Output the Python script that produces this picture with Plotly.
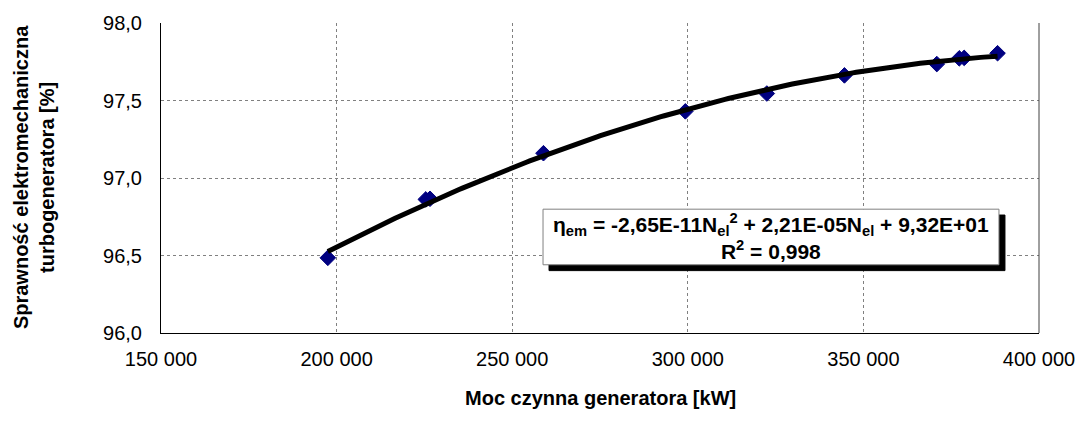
import numpy as np
import plotly.graph_objects as go

# Data
power_kw = [197500, 225400, 226600, 258900, 299300, 322500, 344600, 370900, 377300, 378700, 388200]
efficiency_pct = [96.485, 96.862, 96.866, 97.160, 97.430, 97.545, 97.662, 97.735, 97.772, 97.775, 97.805]

x_title = "Moc czynna generatora [kW]"
y_title = "Sprawność elektromechaniczna<br>turbogeneratora [%]"
eq_text = ("η<sub>em</sub> = -2,65E-11N<sub>el</sub><sup>2</sup> + 2,21E-05N<sub>el</sub> + 9,32E+01"
           "<br>R<sup>2</sup> = 0,998")

x_range = [150000, 400000]
y_range = [96.0, 98.0]

# 2nd-order polynomial trendline fitted to the data
coef = np.polyfit(power_kw, efficiency_pct, 2)
xt = np.linspace(min(power_kw), max(power_kw), 200)
yt = np.polyval(coef, xt)

FONT = "Liberation Sans, Arial, sans-serif"

fig = go.Figure()
fig.add_trace(go.Scatter(x=power_kw, y=efficiency_pct, mode="markers",
                         marker=dict(symbol="diamond", size=12, color="#000080",
                                     line=dict(color="#000080", width=1)),
                         showlegend=False, hoverinfo="skip"))
fig.add_trace(go.Scatter(x=xt, y=yt, mode="lines",
                         line=dict(color="black", width=5),
                         showlegend=False, hoverinfo="skip"))

fig.update_layout(
    width=1088, height=423,
    margin=dict(l=161, r=49, t=15, b=90),
    paper_bgcolor="white", plot_bgcolor="white",
    separators=", ",
    font=dict(family=FONT, size=20, color="black"),
    xaxis=dict(range=x_range, dtick=50000, tick0=150000, tickformat=",d",
               showgrid=True, gridcolor="#808080", griddash="dot", gridwidth=1,
               showline=True, linecolor="black", linewidth=1, ticks="",
               zeroline=False, ticklabelstandoff=8),
    yaxis=dict(range=y_range, dtick=0.5, tick0=96, tickformat=".1f",
               showgrid=True, gridcolor="#808080", griddash="dot", gridwidth=1,
               showline=True, linecolor="black", linewidth=1, ticks="",
               zeroline=False, ticklabelstandoff=14),
)

# right border of plot area
fig.add_shape(type="line", xref="paper", yref="paper", x0=1, x1=1, y0=0, y1=1,
              line=dict(color="#404040", width=1))

# axis titles
fig.add_annotation(text=x_title, xref="paper", yref="paper", x=0.5, y=-0.21,
                   xanchor="center", yanchor="middle", showarrow=False,
                   font=dict(family=FONT, size=20, color="black", weight="bold"))
fig.add_annotation(text=y_title, xref="paper", yref="paper", x=-0.1446, y=0.503,
                   xanchor="center", yanchor="middle", showarrow=False, textangle=-90,
                   font=dict(family=FONT, size=20, color="black", weight="bold"))

# equation box with drop shadow
bx0, bx1, by0, by1 = 0.4351, 0.9544, 0.2201, 0.3994
dx, dy = 6 / 878, 6 / 318
fig.add_shape(type="rect", xref="paper", yref="paper",
              x0=bx0 + dx, x1=bx1 + dx, y0=by0 - dy, y1=by1 - dy,
              fillcolor="black", line=dict(color="black", width=1), layer="above")
fig.add_shape(type="rect", xref="paper", yref="paper",
              x0=bx0, x1=bx1, y0=by0, y1=by1,
              fillcolor="white", line=dict(color="#808080", width=1), layer="above")
fig.add_annotation(text=eq_text, xref="paper", yref="paper",
                   x=(bx0 + bx1) / 2, y=(by0 + by1) / 2,
                   xanchor="center", yanchor="middle", showarrow=False,
                   font=dict(family=FONT, size=21, color="black", weight="bold"))

fig.write_html("out.html")
